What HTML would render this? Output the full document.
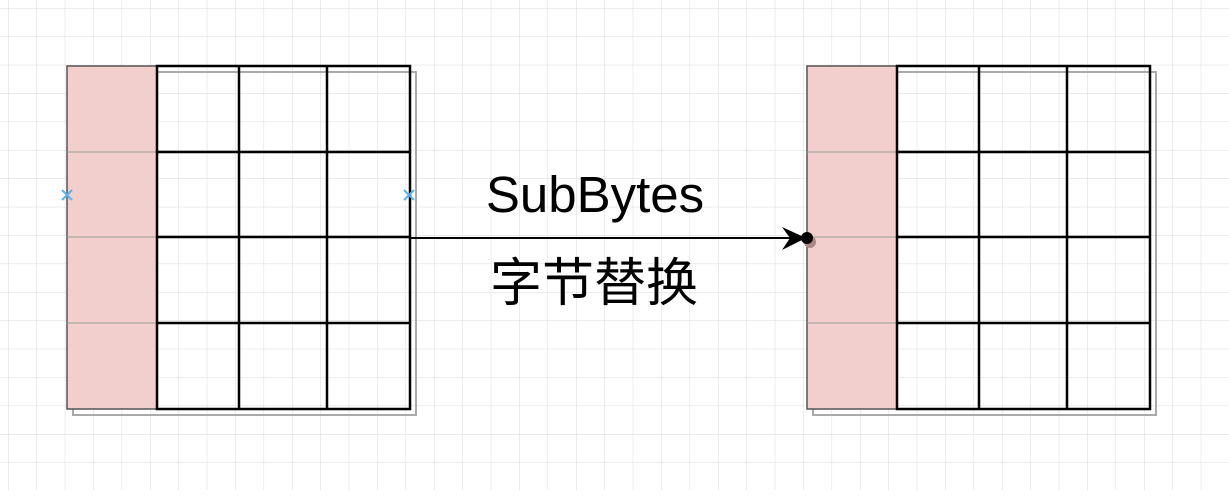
<!DOCTYPE html>
<html><head><meta charset="utf-8"><style>
body{margin:0;width:1229px;height:490px;overflow:hidden;background:#fff}
</style></head><body>
<svg width="1229" height="490" xmlns="http://www.w3.org/2000/svg">
<defs>
<pattern id="g" x="8" y="8" width="28.4" height="28.4" patternUnits="userSpaceOnUse">
<path d="M0 0H28.4M0 0V28.4" stroke="#d9d9d9" stroke-width="1" fill="none"/>
</pattern>
</defs>
<rect width="1229" height="490" fill="url(#g)"/>
<g id="m">
<rect x="73" y="72" width="343" height="343" fill="none" stroke="#aaa" stroke-width="2"/>
<rect x="67" y="66" width="90" height="343" fill="#f2cfcc" stroke="#555" stroke-width="1.5"/>
<g stroke="#999" stroke-width="1"><line x1="67" y1="152" x2="157" y2="152"/><line x1="67" y1="237" x2="157" y2="237"/><line x1="67" y1="323" x2="157" y2="323"/></g>
<g stroke="#000" stroke-width="2.5" fill="none">
<rect x="157" y="66" width="253" height="343"/>
<line x1="239" y1="66" x2="239" y2="409"/><line x1="327" y1="66" x2="327" y2="409"/>
<line x1="157" y1="152" x2="410" y2="152"/><line x1="157" y1="237" x2="410" y2="237"/><line x1="157" y1="323" x2="410" y2="323"/>
</g>
</g>
<use href="#m" x="740"/>
<line x1="410" y1="238" x2="795" y2="238" stroke="#000" stroke-width="2"/>
<path d="M782 227 L806 238 L782 250 L790 238 Z" fill="#000"/>
<circle cx="810" cy="242" r="6" fill="#a88"/>
<circle cx="807" cy="238" r="6" fill="#000"/>
<g stroke="#5ab4ea" stroke-width="2"><path d="M62 190l10 10M72 190l-10 10"/><path d="M404 190l10 10M414 190l-10 10"/></g>
<text x="595" y="212" font-family="Liberation Sans, sans-serif" font-size="51" text-anchor="middle">SubBytes</text>
<text x="594" y="301" font-family="Liberation Sans, 'Noto Sans CJK SC', sans-serif" font-size="52" text-anchor="middle">字节替换</text>
</svg>
</body></html>
